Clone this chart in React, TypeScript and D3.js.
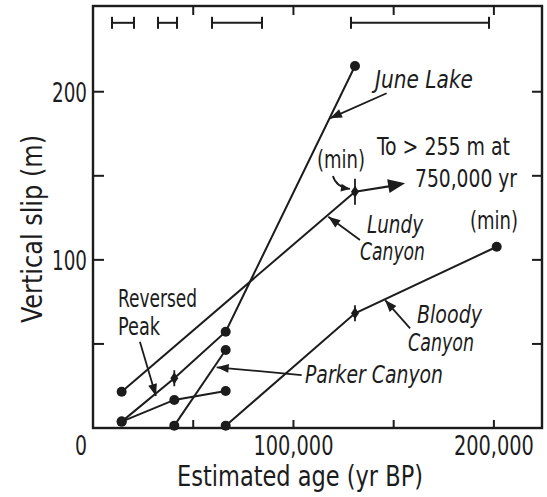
import React from "react";
import * as d3 from "d3";

// ---- data (age in yr BP, vertical slip in m) ----
const juneLake = [
  { age: 14300, slip: 3.8, mark: "dot" },
  { age: 40560, slip: 29.6, mark: "star" },
  { age: 66200, slip: 57.3, mark: "dot" },
  { age: 130700, slip: 215.3, mark: "dot" },
];
const lundyCanyon = [
  { age: 14300, slip: 21.6, mark: "dot" },
  { age: 130700, slip: 140.5, mark: "bigstar" },
];
const lundyExtension = [
  { age: 130700, slip: 140.5 },
  { age: 155700, slip: 145.5 },
];
const reversedPeak = [
  { age: 14300, slip: 3.8, mark: "dot" },
  { age: 40560, slip: 16.7, mark: "dot" },
  { age: 66200, slip: 22.0, mark: "dot" },
];
const parkerCanyon = [
  { age: 40560, slip: 1.4, mark: "dot" },
  { age: 66200, slip: 46.4, mark: "dot" },
];
const bloodyCanyon = [
  { age: 66200, slip: 1.4, mark: "dot" },
  { age: 130700, slip: 68.2, mark: "star" },
  { age: 201400, slip: 107.8, mark: "dot" },
];
const ageRanges = [
  [9480, 20450],
  [32430, 41910],
  [59370, 84310],
  [128700, 197560],
];
const ageRangeSlip = 241;
// annotation arrows: [tailAge, tailSlip, tipAge, tipSlip]
const pointerArrows = [
  [146500, 199.1, 118200, 184.2], // June Lake
  [133200, 111.8, 117400, 125.7], // Lundy Canyon
  [158200, 59.3, 145700, 76.1], // Bloody Canyon
  [104100, 31.5, 61700, 36.1], // Parker Canyon
  [23400, 51.3, 31400, 19.0], // Reversed Peak
];
const minCurve = [119700, 149.9, 128200, 142.2];

const xTicks = [50000, 100000, 150000, 200000];
const xTickLabels = [
  { v: 100000, t: "100,000" },
  { v: 200000, t: "200,000" },
];
const yTicks = [50, 100, 150, 200];
const yTickLabels = [
  { v: 100, t: "100" },
  { v: 200, t: "200" },
];

const W = 547;
const H = 497;
const ink = "#1c1c1c";
const FONT = "'Liberation Sans Narrow', 'DejaVu Sans Condensed', 'Arial Narrow', sans-serif";

export default function App() {
  const x = d3.scaleLinear().domain([0, 224000]).range([93, 542]);
  const y = d3.scaleLinear().domain([0, 251]).range([428, 6]);
  const line = d3
    .line<any>()
    .x((d) => x(d.age))
    .y((d) => y(d.slip));

  const series = [juneLake, lundyCanyon, reversedPeak, parkerCanyon, bloodyCanyon];

  const arrowHead = (x1: number, y1: number, x2: number, y2: number, len: number, half: number) => {
    const a = Math.atan2(y2 - y1, x2 - x1);
    const bx = x2 - len * Math.cos(a);
    const by = y2 - len * Math.sin(a);
    const px = -Math.sin(a) * half;
    const py = Math.cos(a) * half;
    return `M${x2},${y2}L${bx + px},${by + py}L${bx - px},${by - py}Z`;
  };

  const marks: any[] = [];
  series.forEach((s, si) =>
    s.forEach((d: any, i) => {
      const cx = x(d.age);
      const cy = y(d.slip);
      if (d.mark === "dot") {
        marks.push(<circle key={`m${si}-${i}`} cx={cx} cy={cy} r={5} fill={ink} />);
      } else {
        const h = d.mark === "bigstar" ? 13 : 8;
        marks.push(
          <g key={`m${si}-${i}`}>
            <path
              d={`M${cx},${cy - 6}L${cx + 4},${cy}L${cx},${cy + 6}L${cx - 4},${cy}Z`}
              fill={ink}
            />
            <line x1={cx} x2={cx} y1={cy - h} y2={cy + h} stroke={ink} strokeWidth={1.8} />
          </g>
        );
      }
    })
  );

  const ext0 = lundyExtension[0];
  const ext1 = lundyExtension[1];
  const ex1 = x(ext0.age), ey1 = y(ext0.slip), ex2 = x(ext1.age), ey2 = y(ext1.slip);

  const [mcA, mcS, mtA, mtS] = minCurve;
  const mcx1 = x(mcA), mcy1 = y(mcS), mcx2 = x(mtA), mcy2 = y(mtS);

  const textStyle: React.CSSProperties = { fontFamily: FONT, fill: ink };
  const LA = "spacingAndGlyphs";

  return (
    <svg
      width={W}
      height={H}
      style={{ position: "absolute", left: 0, top: 0, background: "#fff" }}
    >
      {/* frame */}
      <rect x={93} y={6} width={449} height={422} fill="none" stroke={ink} strokeWidth={2.4} />
      {/* ticks */}
      {xTicks.map((v) => (
        <g key={`xt${v}`}>
          <line x1={x(v)} x2={x(v)} y1={428} y2={420} stroke={ink} strokeWidth={2} />
          <line x1={x(v)} x2={x(v)} y1={6} y2={15} stroke={ink} strokeWidth={2} />
        </g>
      ))}
      {yTicks.map((v) => (
        <g key={`yt${v}`}>
          <line x1={93} x2={104} y1={y(v)} y2={y(v)} stroke={ink} strokeWidth={2} />
          <line x1={542} x2={532} y1={y(v)} y2={y(v)} stroke={ink} strokeWidth={2} />
        </g>
      ))}
      {/* tick labels */}
      {xTickLabels.map((d) => (
        <text key={`xl${d.v}`} x={x(d.v)} y={455} textAnchor="middle" fontSize={27}
          textLength={80} lengthAdjust={LA} style={textStyle}>
          {d.t}
        </text>
      ))}
      {yTickLabels.map((d) => (
        <text key={`yl${d.v}`} x={87} y={y(d.v) + 10} textAnchor="end" fontSize={27}
          textLength={35} lengthAdjust={LA} style={textStyle}>
          {d.t}
        </text>
      ))}
      <text x={87} y={455} textAnchor="end" fontSize={27} textLength={12} lengthAdjust={LA} style={textStyle}>
        0
      </text>
      {/* axis titles */}
      <text x={300} y={486} textAnchor="middle" fontSize={28} textLength={246} lengthAdjust={LA} style={textStyle}>
        Estimated age (yr BP)
      </text>
      <text
        transform="translate(42,229) rotate(-90)"
        textAnchor="middle"
        fontSize={28}
        textLength={188}
        lengthAdjust={LA}
        style={textStyle}
      >
        Vertical slip (m)
      </text>

      {/* age uncertainty bars */}
      {ageRanges.map((r, i) => (
        <g key={`ar${i}`} stroke={ink} strokeWidth={2}>
          <line x1={x(r[0])} x2={x(r[1])} y1={y(ageRangeSlip)} y2={y(ageRangeSlip)} />
          <line x1={x(r[0])} x2={x(r[0])} y1={y(ageRangeSlip) - 6} y2={y(ageRangeSlip) + 6} />
          <line x1={x(r[1])} x2={x(r[1])} y1={y(ageRangeSlip) - 6} y2={y(ageRangeSlip) + 6} />
        </g>
      ))}

      {/* series lines */}
      {series.map((s, i) => (
        <path key={`s${i}`} d={line(s as any) || ""} fill="none" stroke={ink} strokeWidth={2} />
      ))}
      {/* Lundy extension arrow */}
      <line x1={ex1} y1={ey1} x2={ex2 - 10} y2={ey2 + 2} stroke={ink} strokeWidth={2.2} />
      <path d={arrowHead(ex1, ey1, ex2, ey2, 17, 7)} fill={ink} />
      {marks}

      {/* pointer arrows */}
      {pointerArrows.map((p, i) => {
        const x1 = x(p[0]), y1 = y(p[1]), x2 = x(p[2]), y2 = y(p[3]);
        return (
          <g key={`pa${i}`}>
            <line x1={x1} y1={y1} x2={x2} y2={y2} stroke={ink} strokeWidth={1.8} />
            <path d={arrowHead(x1, y1, x2, y2, 12, 4.5)} fill={ink} />
          </g>
        );
      })}
      {/* (min) curved pointer */}
      <path
        d={`M${mcx1},${mcy1}Q${mcx1 + 3},${mcy2 - 2} ${mcx2},${mcy2}`}
        fill="none"
        stroke={ink}
        strokeWidth={1.8}
      />
      <path d={arrowHead(mcx1 + 3, mcy2 - 2, mcx2, mcy2, 9, 4)} fill={ink} />

      {/* labels */}
      <g style={textStyle} fontStyle="italic" fontSize={25}>
        <text x={375} y={88} textLength={98} lengthAdjust={LA}>June Lake</text>
        <text x={367} y={233} textLength={56} lengthAdjust={LA}>Lundy</text>
        <text x={360} y={260} textLength={65} lengthAdjust={LA}>Canyon</text>
        <text x={417} y={323} textLength={65} lengthAdjust={LA}>Bloody</text>
        <text x={408} y={351} textLength={66} lengthAdjust={LA}>Canyon</text>
        <text x={305} y={383} textLength={138} lengthAdjust={LA}>Parker Canyon</text>
      </g>
      <g style={textStyle} fontSize={24}>
        <text x={118} y={307} textLength={79} lengthAdjust={LA}>Reversed</text>
        <text x={118} y={335} textLength={42} lengthAdjust={LA}>Peak</text>
        <text x={341} y={168} textAnchor="middle" textLength={48} lengthAdjust={LA}>(min)</text>
        <text x={494} y={229} textAnchor="middle" textLength={48} lengthAdjust={LA}>(min)</text>
        <text x={377} y={155} textLength={133} lengthAdjust={LA}>To &gt; 255 m at</text>
        <text x={415} y={187} textLength={102} lengthAdjust={LA}>750,000 yr</text>
      </g>
    </svg>
  );
}
